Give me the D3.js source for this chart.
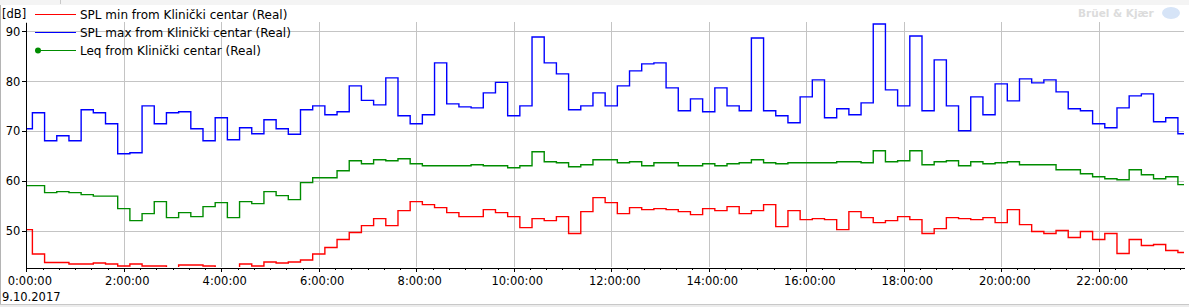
<!DOCTYPE html>
<html>
<head>
<meta charset="utf-8">
<script src="https://cdn.jsdelivr.net/npm/d3@7"></script>
<style>
  html, body { margin: 0; padding: 0; background: #fff; }
  svg { display: block; font-family: "DejaVu Sans", sans-serif; }
  .axis path, .axis line { stroke: #000; shape-rendering: crispEdges; }
  .axis text { font-size: 11.5px; fill: #000; font-family: "DejaVu Sans", sans-serif; }
  .grid line { stroke: #c4c4c4; shape-rendering: crispEdges; }
</style>
</head>
<body>
<div id="chart-area"></div>
<script>
// 15 minute values, 9.10.2017, from 0:00:00 to 23:45:00
var splMin = [50.3, 45.4, 43.7, 43.7, 43.4, 43.4, 43.6, 43.4, 43.0, 43.4, 43.0, 43.0,
              42.5, 43.2, 43.2, 43.0, 42.5, 42.5, 43.4, 43.0, 43.8, 43.6, 43.8, 44.2,
              45.4, 46.7, 48.3, 49.7, 51.1, 52.5, 51.1, 54.1, 55.9, 55.3, 54.7, 53.7,
              52.9, 52.9, 54.3, 53.7, 52.9, 50.7, 52.5, 52.1, 52.9, 49.5, 53.9, 56.7,
              55.7, 53.5, 54.7, 54.3, 54.5, 54.3, 53.9, 53.3, 54.5, 54.1, 54.9, 53.5,
              54.1, 55.3, 50.9, 54.1, 52.3, 52.5, 52.3, 50.3, 53.9, 52.7, 51.7, 52.1,
              52.9, 52.3, 49.5, 50.5, 52.7, 52.5, 52.3, 52.7, 51.7, 54.3, 51.3, 49.9,
              49.5, 50.1, 48.7, 49.9, 48.3, 49.5, 45.5, 48.3, 47.1, 47.3, 46.1, 45.7];

var splMax = [70.5, 73.7, 68.1, 69.1, 68.1, 74.3, 73.7, 71.5, 65.5, 65.7, 75.1, 71.5,
              73.7, 73.9, 70.5, 68.1, 72.7, 68.3, 70.7, 69.5, 72.3, 70.5, 69.4, 74.3,
              75.1, 73.3, 73.9, 79.1, 76.2, 75.3, 80.7, 73.1, 71.5, 73.3, 83.7, 75.5,
              74.9, 74.7, 77.7, 79.8, 73.1, 75.1, 88.9, 83.7, 81.5, 74.3, 75.1, 77.7,
              75.1, 79.1, 82.1, 83.5, 83.7, 78.7, 74.1, 76.5, 73.9, 78.7, 75.1, 74.1,
              88.7, 74.1, 73.1, 71.7, 76.9, 80.3, 72.7, 74.5, 73.3, 75.7, 91.5, 78.3,
              75.1, 89.1, 74.1, 84.3, 75.1, 70.1, 76.9, 73.3, 79.5, 76.1, 80.5, 79.7,
              80.3, 77.9, 74.5, 74.1, 71.5, 70.7, 74.7, 77.1, 77.5, 71.9, 72.7, 69.5];

var leq = [59.1, 59.1, 57.7, 57.9, 57.7, 57.3, 57.0, 57.0, 54.5, 52.1, 53.5, 55.9,
           52.7, 53.7, 52.9, 54.9, 55.7, 52.7, 55.9, 55.5, 57.9, 57.1, 56.3, 59.7,
           60.7, 60.7, 62.1, 64.1, 63.5, 64.3, 64.1, 64.5, 63.5, 63.1, 63.1, 63.1,
           63.1, 63.3, 63.1, 63.1, 62.7, 63.1, 65.9, 63.9, 63.7, 62.9, 63.3, 64.3,
           64.3, 63.7, 63.9, 63.1, 63.7, 63.7, 63.1, 63.1, 63.5, 63.1, 63.5, 63.7,
           64.3, 63.7, 63.5, 63.7, 63.7, 63.7, 63.7, 63.9, 63.9, 63.7, 66.1, 63.9,
           64.1, 66.1, 63.3, 63.9, 64.1, 63.1, 63.9, 63.5, 63.7, 63.9, 63.3, 63.3,
           63.3, 62.3, 62.3, 61.5, 60.9, 60.5, 60.3, 62.3, 61.3, 60.5, 60.9, 59.3];

var seriesNames = ["SPL min from Klinički centar (Real)",
                   "SPL max from Klinički centar (Real)",
                   "Leq from Klinički centar (Real)"];
var seriesColors = ["#ff0000", "#0000ff", "#008c00"];
var yTicks = [50, 60, 70, 80, 90];

var startTime = new Date(2017, 9, 9, 0, 0, 0);
var times = splMin.map(function(d, i){ return d3.timeMinute.offset(startTime, i * 15); });

var W = 1189, H = 307;
var margin = {left: 26.3, right: 5, top: 22, bottom: 40};
var plotRight = 1184, plotBottom = 267;

var svg = d3.select("#chart-area").append("svg")
    .attr("width", W).attr("height", H);

// frame bits
svg.append("rect").attr("x", 0).attr("y", 0).attr("width", W).attr("height", 5).attr("fill", "#f4f4f4");
svg.append("line").attr("x1", 60.5).attr("x2", 60.5).attr("y1", 0).attr("y2", 4).attr("stroke", "#c8c8c8");
svg.append("line").attr("x1", 0.5).attr("x2", 0.5).attr("y1", 5).attr("y2", 304).attr("stroke", "#b4b4b4");
svg.append("rect").attr("x", 0).attr("y", 304).attr("width", W).attr("height", 3).attr("fill", "#ececec");
svg.append("line").attr("x1", 0).attr("x2", W).attr("y1", 304.5).attr("y2", 304.5).attr("stroke", "#c8c8c8");

// scales
var x = d3.scaleTime()
    .domain([startTime, times[times.length - 1]])
    .range([margin.left, plotRight]);

var y = d3.scaleLinear()
    .domain([42.8, 91.9])
    .range([plotBottom, margin.top]);

// grid
var grid = svg.append("g").attr("class", "grid");
grid.selectAll(".hg").data(yTicks).enter().append("line")
    .attr("x1", margin.left).attr("x2", plotRight)
    .attr("y1", function(d){ return Math.round(y(d)) + 0.5; })
    .attr("y2", function(d){ return Math.round(y(d)) + 0.5; });
grid.selectAll(".vg").data(x.ticks(d3.timeHour.every(2))).enter().append("line")
    .attr("x1", function(d){ return Math.round(x(d)) + 0.5; })
    .attr("x2", function(d){ return Math.round(x(d)) + 0.5; })
    .attr("y1", margin.top).attr("y2", plotBottom);

// clip
svg.append("clipPath").attr("id", "plot-clip")
  .append("rect")
    .attr("x", margin.left).attr("y", margin.top - 2)
    .attr("width", plotRight - margin.left + 1)
    .attr("height", plotBottom - margin.top + 2);

var lineGen = d3.line()
    .x(function(d){ return x(d.t); })
    .y(function(d){ return y(d.v); })
    .curve(d3.curveStep);

var allSeries = [splMin, splMax, leq];
var lines = svg.append("g").attr("clip-path", "url(#plot-clip)");
allSeries.forEach(function(vals, k){
    var pts = vals.map(function(v, i){ return {t: times[i], v: v}; });
    lines.append("path")
        .attr("d", lineGen(pts))
        .attr("fill", "none")
        .attr("stroke", seriesColors[k])
        .attr("stroke-width", 1.4);
});

// axes
var xAxisMinor = d3.axisBottom(x)
    .ticks(d3.timeMinute.every(20))
    .tickSize(2)
    .tickFormat("");
svg.append("g").attr("class", "axis")
    .attr("transform", "translate(0," + (plotBottom + 0.5) + ")")
    .call(xAxisMinor)
    .call(function(g){ g.select(".domain").remove(); });

var xAxis = d3.axisBottom(x)
    .ticks(d3.timeHour.every(2))
    .tickSize(4)
    .tickSizeOuter(0)
    .tickPadding(5)
    .tickFormat(d3.timeFormat("%-H:%M:%S"));
svg.append("g").attr("class", "axis")
    .attr("transform", "translate(0," + (plotBottom + 0.5) + ")")
    .call(xAxis)
    .selectAll("text").attr("dx", 3);

var yAxis = d3.axisLeft(y)
    .tickValues(yTicks)
    .tickSize(4)
    .tickSizeOuter(0)
    .tickPadding(2);
svg.append("g").attr("class", "axis")
    .attr("transform", "translate(" + (margin.left) + ",0)")
    .call(yAxis);

svg.append("text")
    .attr("x", 2).attr("y", 301)
    .attr("font-size", "11.5px")
    .text("9.10.2017");

svg.append("text")
    .attr("x", 2).attr("y", 18)
    .attr("font-size", "11.5px")
    .text("[dB]");

// legend
var legend = svg.append("g").attr("transform", "translate(35,14)");
seriesNames.forEach(function(name, i){
    var row = legend.append("g").attr("transform", "translate(0," + (i * 18) + ")");
    row.append("line")
        .attr("x1", 0).attr("x2", 41).attr("y1", 0.5).attr("y2", 0.5)
        .attr("stroke", seriesColors[i]).attr("stroke-width", 1.2);
    if (i == 2) {
        row.append("circle").attr("cx", 3).attr("cy", 0.5).attr("r", 3)
            .attr("fill", seriesColors[i]);
    }
    row.append("text")
        .attr("x", 45).attr("y", 5)
        .attr("font-size", "12px")
        .text(name);
});

// watermark
svg.append("text")
    .attr("x", 1078).attr("y", 17)
    .attr("font-size", "10.5px")
    .attr("font-weight", "bold")
    .attr("fill", "#dcdcdc")
    .text("Brüel & Kjær");
svg.append("ellipse")
    .attr("cx", 1171).attr("cy", 13).attr("rx", 9).attr("ry", 6)
    .attr("fill", "#d6e4f7");
</script>
</body>
</html>
